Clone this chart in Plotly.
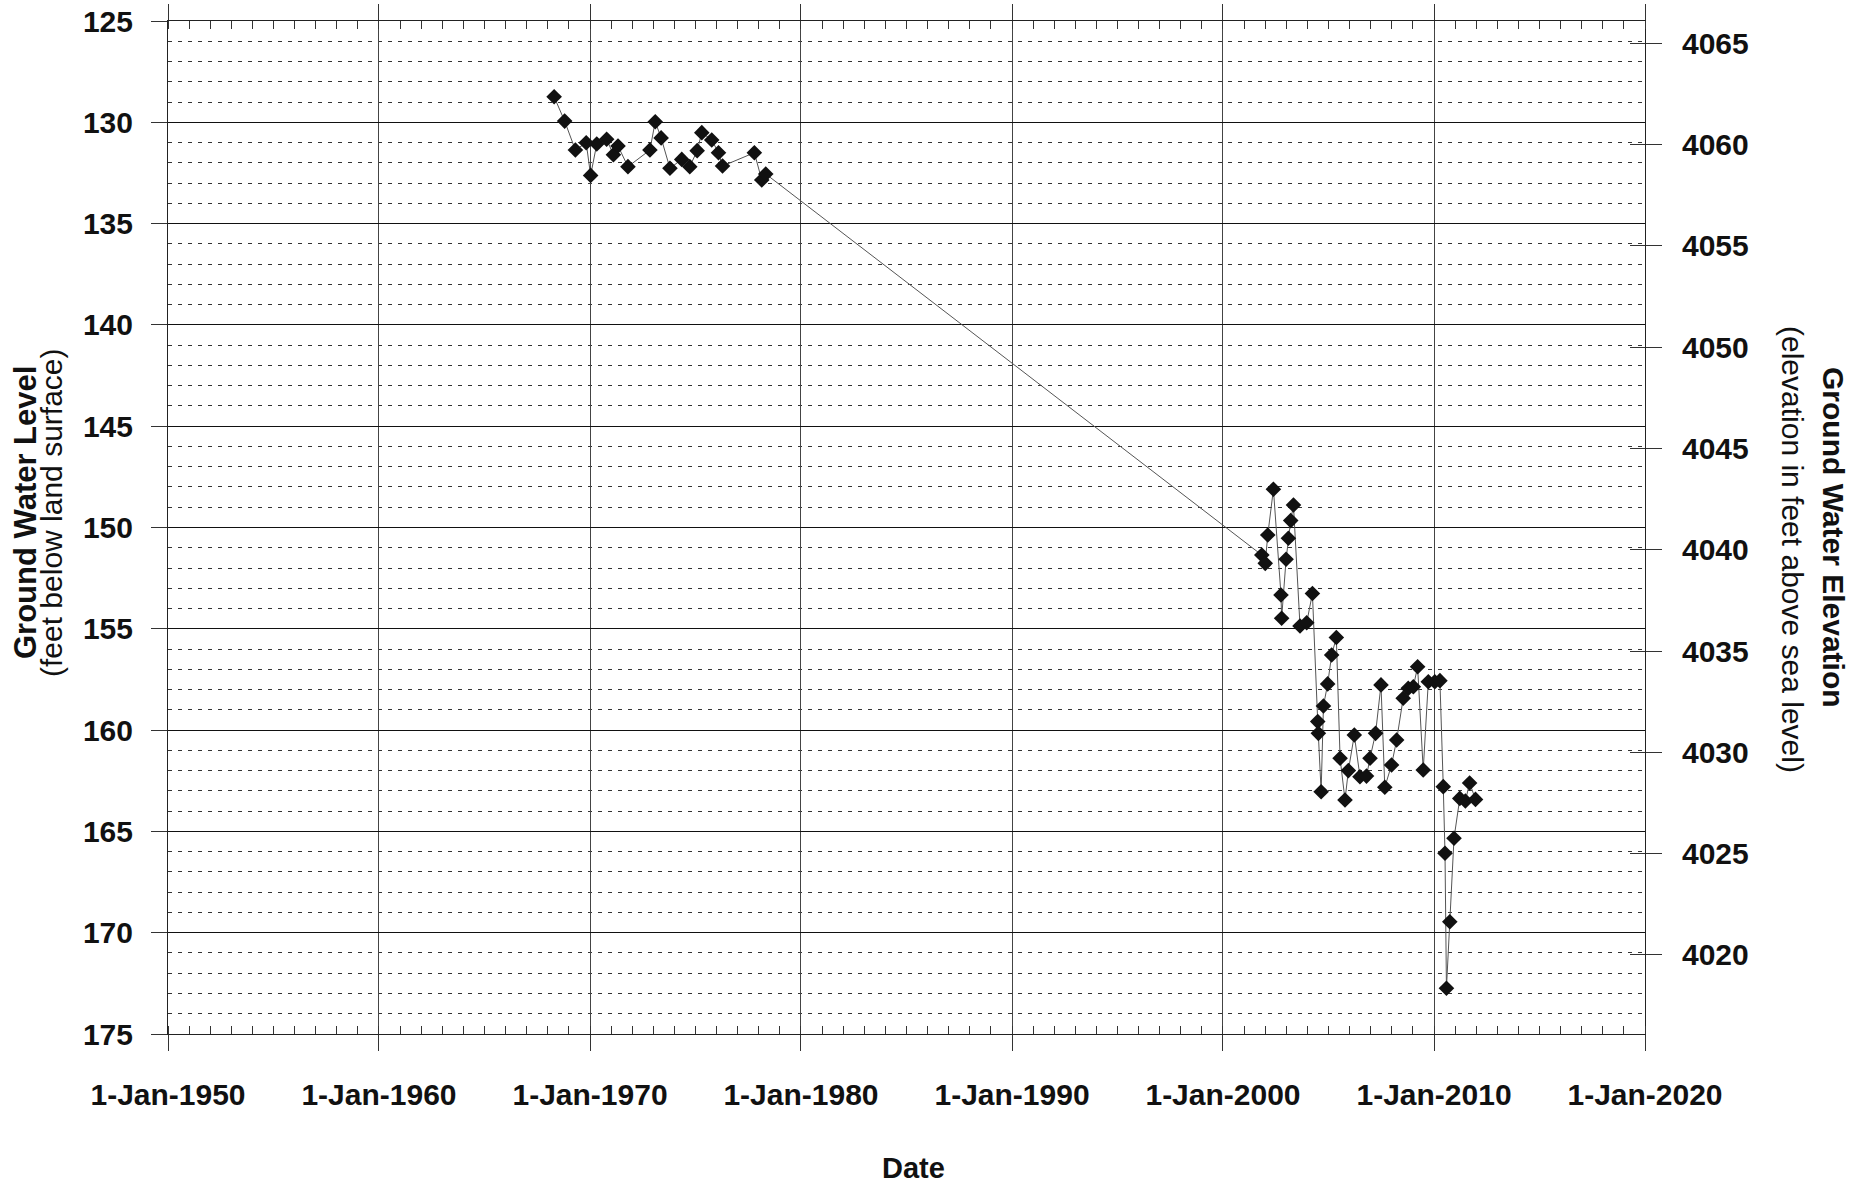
import plotly.graph_objects as go

# Measurement dates and depth to water (feet below land surface)
dates = [
    "1968-04-20", "1968-10-19", "1969-04-23", "1969-10-27", "1970-01-12", "1970-04-28",
    "1970-10-16", "1971-02-10", "1971-05-01", "1971-10-20", "1972-11-03", "1973-02-03",
    "1973-05-16", "1973-10-16", "1974-05-08", "1974-09-24", "1975-01-30", "1975-04-20",
    "1975-10-09", "1976-02-03", "1976-04-13", "1977-10-16", "1978-02-21", "1978-05-01",
    "2001-11-03", "2002-01-01", "2002-02-14", "2002-05-23", "2002-10-01", "2002-10-12",
    "2002-12-28", "2003-02-06", "2003-03-18", "2003-05-05", "2003-08-26", "2003-12-20",
    "2004-03-28", "2004-06-28", "2004-07-09", "2004-08-26", "2004-10-05", "2004-12-17",
    "2005-02-24", "2005-05-16", "2005-07-20", "2005-10-13", "2005-12-10", "2006-03-23",
    "2006-06-29", "2006-10-20", "2006-12-20", "2007-03-26", "2007-06-28", "2007-09-02",
    "2007-12-28", "2008-03-25", "2008-07-16", "2008-10-12", "2009-01-08", "2009-03-23",
    "2009-06-28", "2009-09-24", "2010-01-15", "2010-04-13", "2010-06-10", "2010-07-10",
    "2010-08-04", "2010-10-01", "2010-12-13", "2011-03-23", "2011-06-28", "2011-09-09",
    "2011-12-20",
]
depth_ft = [
    128.74, 129.94, 131.37, 131.01, 132.62, 131.07,
    130.84, 131.60, 131.17, 132.19, 131.37, 129.97,
    130.77, 132.27, 131.83, 132.19, 131.40, 130.51,
    130.87, 131.50, 132.16, 131.50, 132.85, 132.55,
    151.36, 151.77, 150.37, 148.11, 153.33, 154.48,
    151.57, 150.53, 149.66, 148.89, 154.86, 154.70,
    153.26, 159.58, 160.16, 163.04, 158.81, 157.72,
    156.29, 155.43, 161.39, 163.45, 162.00, 160.24,
    162.30, 162.27, 161.39, 160.16, 157.77, 162.82,
    161.72, 160.49, 158.43, 157.94, 157.86, 156.87,
    161.97, 157.61, 157.61, 157.56, 162.79, 166.08,
    172.74, 169.46, 165.34, 163.37, 163.50, 162.61,
    163.42,
]

LAND_SURFACE_ELEV = 4191.1  # ft above sea level
depth_range = [175, 125]
elev_range = [LAND_SURFACE_ELEV - depth_range[0], LAND_SURFACE_ELEV - depth_range[1]]
elev_ft = [LAND_SURFACE_ELEV - d for d in depth_ft]

x_range = ["1950-01-01", "2020-01-01"]

FONT = "Liberation Sans, Arial, sans-serif"
TICKFONT = dict(size=30, family=FONT, weight="bold", color="#111111")

# plot-area geometry (pixels)
L, R, T, B, W, H = 168, 1645, 21, 1034, 1866, 1183
PW, PH = R - L, B - T


def px_x(p):
    return (p - L) / PW


def px_y(p):
    return (B - p) / PH


fig = go.Figure()
fig.add_trace(go.Scatter(
    x=dates, y=depth_ft, mode="lines+markers",
    line=dict(color="#555555", width=1),
    marker=dict(symbol="diamond", size=12, color="#111111", line=dict(width=0)),
    showlegend=False, hoverinfo="x+y",
))
# invisible companion traces so the elevation axes render
fig.add_trace(go.Scatter(x=dates, y=elev_ft, yaxis="y2", mode="markers",
                         marker=dict(opacity=0), showlegend=False, hoverinfo="skip"))
fig.add_trace(go.Scatter(x=dates, y=elev_ft, yaxis="y3", mode="markers",
                         marker=dict(opacity=0), showlegend=False, hoverinfo="skip"))

fig.update_layout(
    width=W, height=H,
    margin=dict(l=L, r=W - R, t=T, b=H - B, autoexpand=False),
    paper_bgcolor="white", plot_bgcolor="white",
    font=dict(family=FONT, color="#111111"),
    xaxis=dict(
        type="date", range=x_range, automargin=False,
        tick0="1950-01-01", dtick="M120", tickformat="%-d-%b-%Y",
        ticks="outside", ticklen=16, tickwidth=1, tickcolor="#333333",
        showline=True, linecolor="#222222", linewidth=1, mirror="ticks",
        showgrid=True, gridcolor="#444444", gridwidth=1,
        zeroline=False,
        tickfont=TICKFONT,
        ticklabelstandoff=18,
        minor=dict(dtick="M12", tick0="1950-01-01", ticks="inside", ticklen=8,
                   tickcolor="#333333", tickwidth=1, showgrid=False),
    ),
    yaxis=dict(
        range=depth_range, tick0=125, dtick=5, automargin=False,
        ticks="outside", ticklen=16, tickwidth=1, tickcolor="#333333",
        showline=True, linecolor="#222222", linewidth=1,
        showgrid=True, gridcolor="#111111", gridwidth=1,
        zeroline=False,
        tickfont=TICKFONT,
        ticklabelstandoff=12,
        minor=dict(dtick=1, tick0=125, showgrid=True, gridcolor="#333333",
                   gridwidth=1, griddash="4px,6px", ticks=""),
    ),
    yaxis2=dict(
        overlaying="y", side="right", range=elev_range, automargin=False,
        tick0=4020, dtick=5,
        ticks="outside", ticklen=16, tickwidth=1, tickcolor="#333333",
        showline=True, linecolor="#222222", linewidth=1,
        showgrid=False, zeroline=False,
        tickfont=TICKFONT,
        ticklabelstandoff=14,
    ),
    yaxis3=dict(
        overlaying="y", side="right", range=elev_range, automargin=False,
        tick0=4020, dtick=5,
        ticks="inside", ticklen=15, tickwidth=1, tickcolor="#333333",
        showline=False, showgrid=False, zeroline=False, showticklabels=False,
    ),
    annotations=[
        dict(text="<b>Ground Water Level</b>",
             xref="paper", yref="paper", x=px_x(25), y=px_y(513),
             xanchor="center", yanchor="middle", textangle=-90, showarrow=False,
             font=dict(size=31, family=FONT, color="#111111")),
        dict(text="(feet below land surface)",
             xref="paper", yref="paper", x=px_x(51), y=px_y(513),
             xanchor="center", yanchor="middle", textangle=-90, showarrow=False,
             font=dict(size=30, family=FONT, color="#111111")),
        dict(text="<b>Ground Water Elevation</b>",
             xref="paper", yref="paper", x=px_x(1834), y=px_y(537),
             xanchor="center", yanchor="middle", textangle=90, showarrow=False,
             font=dict(size=30, family=FONT, color="#111111")),
        dict(text="(elevation in feet above sea level)",
             xref="paper", yref="paper", x=px_x(1793), y=px_y(549),
             xanchor="center", yanchor="middle", textangle=90, showarrow=False,
             font=dict(size=30, family=FONT, color="#111111")),
        dict(text="<b>Date</b>",
             xref="paper", yref="paper", x=px_x(913), y=px_y(1168),
             xanchor="center", yanchor="middle", showarrow=False,
             font=dict(size=29, family=FONT, color="#111111")),
    ],
)

fig.write_html("out.html")
